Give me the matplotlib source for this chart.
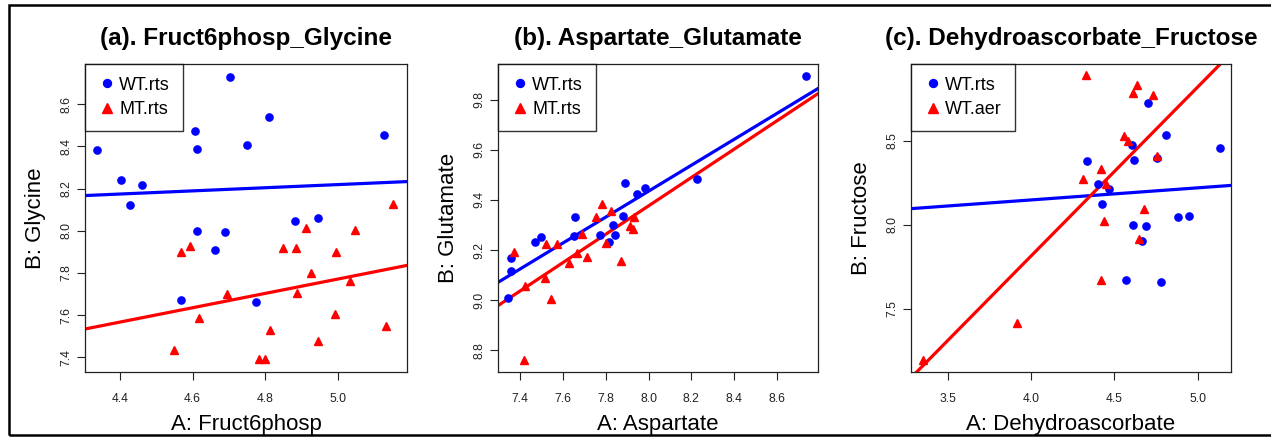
import matplotlib
matplotlib.use("Agg")
import matplotlib.pyplot as plt
from matplotlib.patches import Rectangle
import numpy as np

plt.rcParams['font.family'] = ['Liberation Sans', 'DejaVu Sans']

# ---- data ----
wt_x = [4.336, 4.402, 4.427, 4.460, 4.606, 4.611, 4.703, 4.810, 4.751, 5.127,
        4.612, 4.689, 4.663, 4.882, 4.946, 4.569, 4.774]
wt_gly = [8.385, 8.240, 8.121, 8.217, 8.474, 8.390, 8.730, 8.540, 8.407, 8.455,
          7.999, 7.993, 7.909, 8.048, 8.059, 7.672, 7.664]
mt_x = [4.567, 4.592, 4.849, 4.884, 4.913, 5.046, 5.152, 4.996, 4.927, 5.032,
        4.696, 4.888, 4.617, 4.814, 4.993, 4.945, 5.131, 4.550, 4.783, 4.800]
mt_gly = [7.898, 7.928, 7.919, 7.917, 8.012, 8.004, 8.126, 7.900, 7.798, 7.764,
          7.699, 7.705, 7.587, 7.531, 7.606, 7.479, 7.547, 7.435, 7.391, 7.391]

wt_asp = [8.734, 8.226, 7.889, 7.945, 7.984, 7.880, 7.833, 7.841, 7.815, 7.771,
          7.657, 7.651, 7.495, 7.469, 7.356, 7.356, 7.345]
wt_glu = [9.896, 9.484, 9.466, 9.424, 9.446, 9.335, 9.301, 9.261, 9.234, 9.261,
          9.331, 9.257, 9.253, 9.234, 9.168, 9.117, 9.007]
mt_asp = [7.370, 7.416, 7.423, 7.522, 7.570, 7.518, 7.542, 7.628, 7.665, 7.690,
          7.712, 7.752, 7.783, 7.825, 7.802, 7.872, 7.914, 7.925, 7.931]
mt_glu = [9.194, 8.760, 9.057, 9.224, 9.226, 9.087, 9.005, 9.150, 9.189, 9.264,
          9.172, 9.333, 9.382, 9.357, 9.228, 9.158, 9.295, 9.285, 9.332]

wt_dha = [4.335, 4.399, 4.465, 4.427, 4.608, 4.616, 4.702, 4.808, 5.132, 4.612,
          4.690, 4.666, 4.882, 4.946, 4.570, 4.778, 4.756]
wt_fru = [8.380, 8.241, 8.215, 8.127, 8.474, 8.384, 8.727, 8.536, 8.456, 8.002,
          7.992, 7.906, 8.048, 8.056, 7.675, 7.663, 8.400]
aer_dha = [3.350, 3.917, 4.329, 4.634, 4.610, 4.732, 4.559, 4.579, 4.754, 4.419,
           4.313, 4.447, 4.435, 4.676, 4.646, 4.419]
aer_fru = [7.195, 7.418, 8.894, 8.835, 8.783, 8.775, 8.530, 8.500, 8.410, 8.331,
           8.271, 8.241, 8.022, 8.096, 7.918, 7.675]

# fitted lines: (intercept, slope)
fit_a_wt = (7.8455, 0.0747)
fit_a_mt = (6.0685, 0.3405)
fit_b_wt = (5.296, 0.5174)
fit_b_mt = (4.8485, 0.566)
fit_c_wt = (7.861, 0.072)
fit_c_aer = (3.791, 1.006)

titles = ["(a). Fruct6phosp_Glycine", "(b). Aspartate_Glutamate",
          "(c). Dehydroascorbate_Fructose"]
xlabels = ["A: Fruct6phosp", "A: Aspartate", "A: Dehydroascorbate"]
ylabels = ["B: Glycine", "B: Glutamate", "B: Fructose"]
legend_labels = [("WT.rts", "MT.rts"), ("WT.rts", "MT.rts"), ("WT.rts", "WT.aer")]
xticks = [[4.4, 4.6, 4.8, 5.0], [7.4, 7.6, 7.8, 8.0, 8.2, 8.4, 8.6], [3.5, 4.0, 4.5, 5.0]]
yticks = [[7.4, 7.6, 7.8, 8.0, 8.2, 8.4, 8.6], [8.8, 9.0, 9.2, 9.4, 9.6, 9.8], [7.5, 8.0, 8.5]]
xlims = [(4.304, 5.190), (7.296, 8.792), (3.280, 5.200)]
ylims = [(7.330, 8.791), (8.713, 9.943), (7.125, 8.958)]

panels = [
    (wt_x, wt_gly, mt_x, mt_gly, fit_a_wt, fit_a_mt),
    (wt_asp, wt_glu, mt_asp, mt_glu, fit_b_wt, fit_b_mt),
    (wt_dha, wt_fru, aer_dha, aer_fru, fit_c_wt, fit_c_aer),
]

W, H = 1271, 438
fig = plt.figure(figsize=(W / 100, H / 100), dpi=100)
fig.patches.append(Rectangle((9 / W, 3 / H), 1.2, (430) / H, transform=fig.transFigure,
                             fill=False, edgecolor='black', linewidth=1.8))

lefts = [85, 498, 911]
widths = [322, 320, 320]
top, bottom = 64, 372

for i, (bx, by, rx, ry, fb, fr) in enumerate(panels):
    ax = fig.add_axes([lefts[i] / W, (H - bottom) / H, widths[i] / W, (bottom - top) / H])
    ax.set_xlim(*xlims[i])
    ax.set_ylim(*ylims[i])
    xs = np.array(xlims[i])
    ax.plot(xs, fb[0] + fb[1] * xs, color='#0000ff', lw=2.3, zorder=2)
    ax.plot(xs, fr[0] + fr[1] * xs, color='#ff0000', lw=2.3, zorder=2)
    ax.plot(bx, by, 'o', color='#0000ff', ms=5.2, ls='none', zorder=3, label=legend_labels[i][0])
    ax.plot(rx, ry, '^', color='#ff0000', ms=6.0, ls='none', zorder=3, label=legend_labels[i][1])
    ax.set_xticks(xticks[i])
    ax.set_yticks(yticks[i])
    ax.set_xticklabels([f"{v:.1f}" for v in xticks[i]])
    ax.set_yticklabels([f"{v:.1f}" for v in yticks[i]], rotation=90, va='center')
    ax.tick_params(axis='both', labelsize=8.7, length=5.8, width=0.8, color='#222222',
                   labelcolor='#222222')
    ax.tick_params(axis='x', pad=9.5)
    ax.tick_params(axis='y', pad=3.5)
    for s in ax.spines.values():
        s.set_linewidth(0.9)
        s.set_color('#222222')
    ax.set_title(titles[i], fontsize=17.5, fontweight='bold', pad=14)
    ax.set_xlabel(xlabels[i], fontsize=16, labelpad=6)
    ax.set_ylabel(ylabels[i], fontsize=16, labelpad=10)
    leg = ax.legend(loc='upper left', fontsize=13, frameon=True, fancybox=False,
                    borderaxespad=0, handletextpad=0.2, borderpad=0.7,
                    handlelength=1.0, labelspacing=0.4, markerscale=1.1)
    leg.get_frame().set_edgecolor('black')
    leg.get_frame().set_linewidth(1.0)

fig.savefig("out.png", dpi=100)
